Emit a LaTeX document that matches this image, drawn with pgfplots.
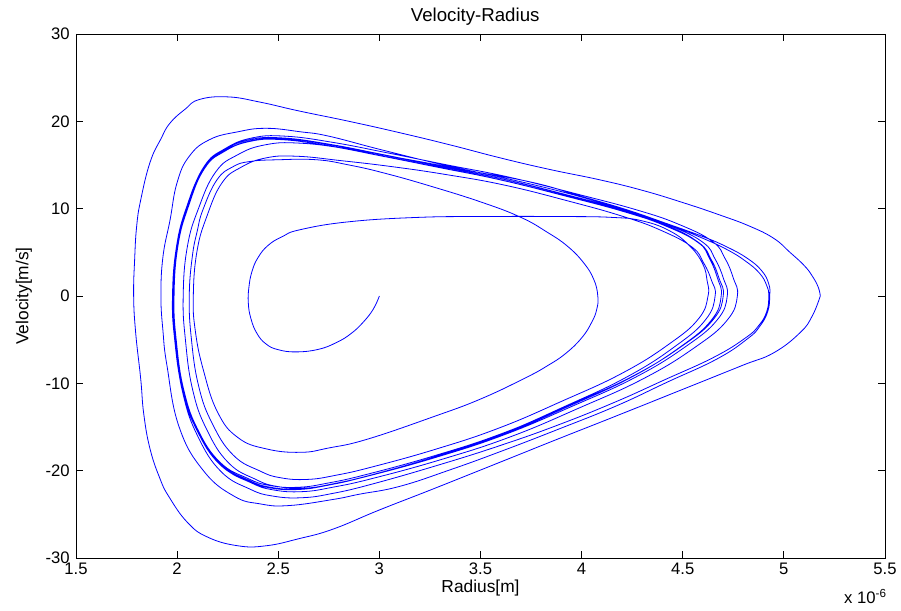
\documentclass[border=0pt]{standalone}
\usepackage{fontspec}
\setmainfont{Liberation Sans}
\usepackage{pgfplots}
\pgfplotsset{compat=1.18}
\newcommand{\lblfont}{\fontsize{13}{15}\selectfont}
\newcommand{\tckfont}{\fontsize{12.5}{15}\selectfont}
\begin{document}
\begin{tikzpicture}
\begin{axis}[
  name=ax,
  scale only axis,
  width=606.75pt, height=393pt,
  xmin=1.5, xmax=5.5, ymin=-30, ymax=30,
  xtick={1.5,2,2.5,3,3.5,4,4.5,5,5.5},
  xticklabels={1.5,2,2.5,3,3.5,4,4.5,5,5.5},
  ytick={-30,-20,-10,0,10,20,30},
  yticklabels={-30,-20,-10,0,10,20,30},
  tick align=inside,
  major tick length=5.25pt,
  xtick pos=both, ytick pos=both,
  xticklabel pos=lower, yticklabel pos=left,
  tick style={black, line width=0.6pt},
  axis line style={black, line width=0.6pt},
  ticklabel style={font=\tckfont},
  xticklabel style={inner sep=1pt, yshift=-2.5pt},
  yticklabel style={inner sep=1pt, xshift=-3.5pt},
]
% main trajectory
\addplot[blue, line width=0.6pt, smooth, tension=0.75] coordinates {
(3,0) (2.97,-1.5) (2.92,-3) (2.86,-4.3) (2.79,-5.3) (2.7,-6.1) (2.59,-6.4) (2.5,-6.15) (2.44,-5.5) (2.395,-4.3) (2.365,-2.6) (2.352,-0.8) (2.355,1.0) (2.37,2.8) (2.40,4.4) (2.45,5.8) (2.52,6.8) (2.61,7.6) (2.85,8.5) (3.19,9.0) (3.51,9.1) (3.9,9.1) (4.15,9.0) (4.3,8.6) (4.44,7.4) (4.54,5.6) (4.60,3.6) (4.62,1.8) (4.625,0)
(4.579,-2.58) (4.435,-5.46) (4.202,-8.82) (3.899,-12.08) (3.589,-15.14) (3.276,-17.56) (2.965,-19.57) (2.786,-20.52) (2.645,-21.0) (2.511,-20.81) (2.409,-20.03) (2.278,-18.23) (2.173,-14.57) (2.106,-10.27) (2.070,-4.79) (2.06,0)
(2.075,4.5) (2.1,7.5) (2.128,9.9) (2.197,13.3) (2.276,14.8) (2.36,15.4) (2.5,15.6) (2.69,15.6) (2.85,15.0) (3.02,14.1) (3.25,12.6) (3.51,10.7) (3.70,9.0) (3.83,7.3) (3.93,5.7) (4.01,3.8) (4.06,1.9) (4.08,0)
(4.075,-1.5) (4.05,-3.0) (4.0,-4.8) (3.92,-6.6) (3.83,-8.0) (3.72,-9.4) (3.50,-11.8) (3.27,-13.8) (2.94,-16.4) (2.75,-17.4) (2.61,-17.9) (2.44,-17.5) (2.30,-16.2) (2.20,-13.3) (2.13,-8.5) (2.09,-4) (2.08,0)
(2.098,5.09) (2.147,9.12) (2.222,12.96) (2.317,14.75) (2.441,15.82) (2.593,16.0) (2.810,15.5) (3.066,14.8) (3.331,13.9) (3.618,12.7) (3.93,10.9) (4.206,9.1) (4.394,7.5) (4.546,5.6) (4.603,3.8) (4.642,1.8) (4.66,0)
(4.613,-2.71) (4.465,-5.72) (4.226,-9.24) (3.916,-12.65) (3.597,-15.86) (3.277,-18.39) (2.958,-20.50) (2.774,-21.49) (2.630,-22.0) (2.493,-21.80) (2.388,-20.99) (2.254,-19.10) (2.146,-15.27) (2.077,-10.76) (2.041,-5.02) (2.03,0)
(2.050,5.57) (2.105,9.98) (2.190,14.18) (2.297,16.14) (2.436,17.31) (2.607,17.5) (2.851,16.82) (3.138,15.65) (3.437,14.37) (3.758,13.0) (4.0,11.4) (4.22,9.9) (4.42,8.3) (4.6,6.8) (4.72,5.6) (4.82,4.3) (4.89,2.9) (4.925,1.4) (4.93,0)
(4.92,-1.8) (4.88,-3.5) (4.82,-4.9) (4.67,-7.2) (4.42,-9.9) (4.17,-12.6) (3.88,-15.3) (3.60,-17.8) (3.35,-19.9) (3.10,-21.8) (2.90,-22.7) (2.77,-23.3) (2.55,-24.0) (2.41,-23.8) (2.28,-22.9) (2.13,-20.0) (2.01,-15.0) (1.95,-8.0) (1.93,-4) (1.92,0)
(1.93,4.5) (1.965,8.7) (2.0,13.0) (2.06,16.0) (2.16,17.9) (2.30,18.8) (2.44,19.2) (2.61,18.8) (2.75,18.3) (3.0,16.8) (3.3,15.1) (3.6,13.6) (3.84,12.3) (4.05,11.0) (4.25,9.6) (4.45,8.0) (4.6,6.6) (4.72,5.3) (4.81,4.0) (4.88,2.6) (4.915,1.2) (4.925,0)
(4.915,-1.8) (4.875,-3.4) (4.81,-4.8) (4.655,-7.0) (4.41,-9.6) (4.16,-12.2) (3.88,-14.8) (3.60,-17.1) (3.30,-19.3) (2.97,-21.5) (2.77,-22.6) (2.616,-23.1) (2.471,-22.9) (2.359,-22.1) (2.217,-20.1) (2.103,-16.1) (2.03,-11.3) (1.991,-5.3) (1.98,0)
(2.0,5.82) (2.053,10.43) (2.133,14.82) (2.237,16.87) (2.371,18.10) (2.535,18.3) (2.770,17.59) (3.046,16.36) (3.333,15.02) (3.643,13.60) (3.980,11.66) (4.279,9.81) (4.483,8.18) (4.647,6.24) (4.709,4.30) (4.750,2.05) (4.77,0)
(4.720,-2.76) (4.564,-5.82) (4.310,-9.41) (3.982,-12.88) (3.645,-16.15) (3.305,-18.73) (2.968,-20.88) (2.773,-21.88) (2.620,-22.4) (2.475,-22.20) (2.364,-21.37) (2.222,-19.44) (2.108,-15.55) (2.035,-10.95) (1.996,-5.11) (1.985,0)
(2.004,5.72) (2.056,10.26) (2.135,14.58) (2.237,16.60) (2.368,17.80) (2.529,18.0) (2.759,17.30) (3.030,16.09) (3.311,14.78) (3.615,13.37) (3.946,11.47) (4.239,9.65) (4.438,8.05) (4.600,6.14) (4.660,4.23) (4.701,2.02) (4.72,0)
(4.671,-2.72) (4.517,-5.75) (4.268,-9.28) (3.945,-12.71) (3.613,-15.93) (3.279,-18.48) (2.947,-20.60) (2.755,-21.59) (2.605,-22.1) (2.462,-21.90) (2.353,-21.08) (2.213,-19.18) (2.101,-15.34) (2.029,-10.81) (1.991,-5.04) (1.98,0)
(2.0,5.69) (2.05,10.2) (2.13,14.5) (2.23,16.5) (2.36,17.7) (2.52,17.9) (2.75,17.2) (3.02,16.0) (3.30,14.7) (3.60,13.3) (3.93,11.4) (4.22,9.6) (4.42,8.0) (4.58,6.1) (4.64,4.2) (4.68,2.0) (4.70,0)
(4.651,-2.69) (4.499,-5.69) (4.251,-9.20) (3.930,-12.59) (3.601,-15.79) (3.269,-18.31) (2.940,-20.41) (2.750,-21.40) (2.600,-21.9) (2.459,-21.70) (2.350,-20.89) (2.211,-19.01) (2.100,-15.20) (2.029,-10.71) (1.991,-4.99) (1.98,0)
(2.0,5.75) (2.05,10.31) (2.13,14.66) (2.23,16.68) (2.36,17.90) (2.52,18.1) (2.75,17.39) (3.02,16.18) (3.30,14.86) (3.60,13.45) (3.93,11.53) (4.22,9.71) (4.42,8.09) (4.575,6.17) (4.633,4.25) (4.672,2.02) (4.69,0)
(4.643,-2.72) (4.492,-5.76) (4.245,-9.31) (3.925,-12.74) (3.597,-15.98) (3.266,-18.53) (2.938,-20.65) (2.748,-21.66) (2.598,-22.16) (2.457,-21.96) (2.348,-21.14) (2.209,-19.24) (2.098,-15.38) (2.027,-10.84) (1.988,-5.05) (1.977,0)
(1.997,5.69) (2.047,10.2) (2.127,14.5) (2.227,16.5) (2.357,17.7) (2.517,17.9) (2.747,17.2) (3.017,16.0) (3.297,14.7) (3.597,13.3) (3.927,11.4) (4.217,9.6) (4.417,8.0) (4.577,6.1) (4.64,4.2) (4.68,2.0) (4.70,0)
(4.651,-2.69) (4.499,-5.69) (4.251,-9.20) (3.930,-12.59) (3.601,-15.79) (3.269,-18.31) (2.940,-20.41) (2.750,-21.40) (2.600,-21.9) (2.459,-21.70) (2.350,-20.89) (2.211,-19.01) (2.100,-15.20) (2.029,-10.71) (1.991,-4.99) (1.98,0)
};
% outer loop
\addplot[blue, line width=0.6pt, smooth, tension=0.75] coordinates {
(5.18,0) (5.14,-2.3) (5.08,-4.2) (4.95,-6.5) (4.80,-7.9) (4.585,-9.9) (4.175,-13.7) (3.88,-16.4) (3.60,-19.0) (3.265,-22.1) (3.0,-24.5) (2.77,-26.7) (2.6,-27.8) (2.44,-28.6) (2.30,-28.6) (2.15,-27.6) (2.05,-25.9) (1.96,-23.0) (1.915,-20.9) (1.866,-17.5) (1.835,-13.5) (1.82,-9.5) (1.795,-4.2) (1.785,0) (1.79,4.2) (1.80,8) (1.82,11) (1.866,15.3) (1.92,18.0) (1.965,19.8) (2.04,21.4) (2.11,22.5) (2.25,22.8) (2.41,22.2) (2.6,21.2) (2.85,20.0) (3.1,18.7) (3.35,17.3) (3.6,15.8) (3.84,14.5) (4.09,13.3) (4.30,12.1) (4.50,10.7) (4.68,9.3) (4.83,8.0) (4.95,6.6) (5.03,5.0) (5.10,3.5) (5.14,2.3) (5.17,1.0) (5.18,0)
};
\end{axis}
\node[font=\fontsize{14}{16}\selectfont, inner sep=0pt] at ([xshift=-4pt,yshift=12.75pt]ax.north) {Velocity-Radius};
\node[font=\lblfont, inner sep=0pt] at ([yshift=-22.5pt]ax.south) {Radius[m]};
\node[font=\lblfont, rotate=90, inner sep=0pt] at ([xshift=-39pt]ax.west) {Velocity[m/s]};
\node[font=\tckfont, anchor=base east, inner sep=0pt] at ([xshift=1.5pt,yshift=-33.75pt]ax.south east) {x 10\textsuperscript{-6}};
\pgfresetboundingbox
\path ([xshift=-57pt,yshift=-39pt]ax.south west) rectangle ([xshift=12pt,yshift=25.5pt]ax.north east);
\end{tikzpicture}
\end{document}
